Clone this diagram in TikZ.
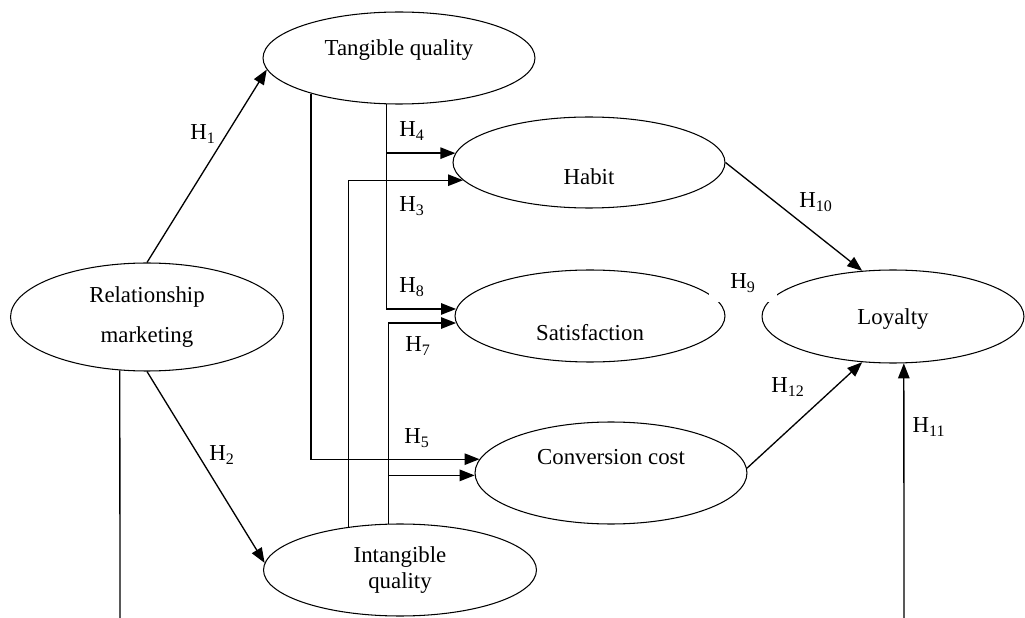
\documentclass[tikz,border=0pt]{standalone}
\usepackage{fontspec}
\setmainfont{Liberation Serif}
\usetikzlibrary{arrows.meta,shapes.geometric}

\begin{document}
\begin{tikzpicture}[x=0.02cm,y=-0.02cm,line width=0.75pt,
  >={Triangle[length=8.5pt,width=6.5pt]},
  every node/.style={font=\fontsize{13}{15}\selectfont},
  construct/.style={ellipse,draw,line width=0.6pt,inner sep=0pt,
    minimum width=5.44cm,minimum height=1.84cm},
  hyp/.style={inner sep=1pt}]
\useasboundingbox (0,0) rectangle (1025,618);

\node[construct,minimum width=5.46cm,minimum height=2.16cm,align=center]
  (rel) at (147,317) {Relationship\\[7.8pt]marketing};
\node[construct,text height=8.9pt,text depth=12.3pt] (tq) at (399,58) {Tangible quality};
\node[construct,minimum width=5.46cm,align=center] (iq) at (400,570) {Intangible\\quality};
\node[construct,minimum height=1.82cm,text height=25.6pt,text depth=0pt] (hb) at (589,162.5) {Habit};
\node[construct,minimum width=5.40cm,text height=27.4pt,text depth=0pt] (sat) at (590,316) {Satisfaction};
\node[construct,minimum height=2.04cm,text height=8.9pt,text depth=18.1pt] (cc) at (611,473) {Conversion cost};
\node[construct,minimum width=5.24cm,minimum height=1.86cm,text height=12.4pt,text depth=2.8pt] (loy) at (893,316.5) {Loyalty};

\coordinate (relout) at (120,618);
\coordinate (loyin) at (904,618);

\draw[->] (rel.north) -- (tq.185.2);
\draw[->] (rel.south) -- (iq.177);
\draw (rel.243) -- (relout);
\draw[->] (tq.255.3) |- (hb.176.6);
\draw[->] (tq.255.3) |- (sat.177.4);
\draw[->] (tq.202.5) |- (cc.174.8);
\draw[->] (iq.140.1) |- (hb.188.7);
\draw[->] (iq.104.7) |- (sat.183);
\draw[->] (iq.104.7) |- (cc.181.3);
\draw[->] (hb.east) -- (loy.124.4);
\draw[->] (cc.2.1) -- (loy.236.5);
\draw[->] (loyin) -- (loy.283.4);

\node[hyp] (h1) at (203,134) {H\textsubscript{1}};
\node[hyp] (h2) at (222,455) {H\textsubscript{2}};
\node[hyp] (h4) at (412,131) {H\textsubscript{4}};
\node[hyp] (h3) at (412,206) {H\textsubscript{3}};
\node[hyp] (h8) at (412,287) {H\textsubscript{8}};
\node[hyp] (h7) at (418,346) {H\textsubscript{7}};
\node[hyp] (h5) at (417,438) {H\textsubscript{5}};
\node[hyp] (h10) at (816,202) {H\textsubscript{10}};
\node[hyp,fill=white,minimum width=1.36cm,minimum height=0.76cm] (h9) at (743,283) {H\textsubscript{9}};
\node[hyp] (h12) at (788,387) {H\textsubscript{12}};
\node[hyp] (h11) at (929,427) {H\textsubscript{11}};

\end{tikzpicture}
\end{document}
